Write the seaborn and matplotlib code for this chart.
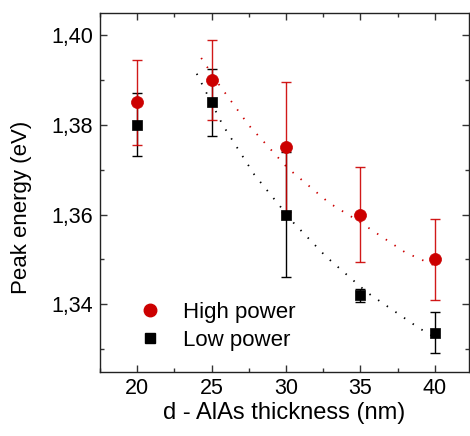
import numpy as np
import pandas as pd
import matplotlib
matplotlib.use("Agg")
import matplotlib.pyplot as plt
import seaborn as sns
from matplotlib.ticker import FuncFormatter, MultipleLocator
from matplotlib.lines import Line2D

# ---- data ----
thickness = [20, 25, 30, 35, 40]
high_power = [1.385, 1.390, 1.375, 1.360, 1.350]
high_err = [0.0095, 0.009, 0.0145, 0.0105, 0.009]
low_power = [1.380, 1.385, 1.360, 1.342, 1.3337]
low_err = [0.007, 0.0075, 0.014, 0.0015, 0.0045]

# dotted guide curves
high_fit_x = [24.3, 25.4, 27.5, 30.1, 32.9, 34.8, 38.0, 40.35]
high_fit_y = [1.3949, 1.3894, 1.3799, 1.3704, 1.3626, 1.3587, 1.3516, 1.3481]
low_fit_x = [24.0, 25.74, 27.87, 30.5, 32.67, 35.43, 38.9, 40.0]
low_fit_y = [1.3914, 1.3800, 1.3689, 1.3582, 1.3507, 1.3427, 1.3348, 1.3326]

labels = ["High power", "Low power"]
xlabel = "d - AlAs thickness (nm)"
ylabel = "Peak energy (eV)"

RED = "#cc0000"
BLACK = "#000000"

sns.set_style("ticks")
plt.rcParams["font.family"] = ["Liberation Sans", "DejaVu Sans"]
plt.rcParams.update({"text.color": "black", "axes.labelcolor": "black",
                     "xtick.color": "black", "ytick.color": "black",
                     "axes.edgecolor": "black"})

fig = plt.figure(figsize=(4.70, 4.36), dpi=100)
ax = fig.add_axes([0.2128, 0.1475, 0.7852, 0.8235])

df_hf = pd.DataFrame({"x": high_fit_x, "y": high_fit_y})
df_lf = pd.DataFrame({"x": low_fit_x, "y": low_fit_y})
sns.lineplot(data=df_hf, x="x", y="y", ax=ax, color=RED, linewidth=1.3, sort=True)
ax.lines[-1].set_dashes((0.8, 5))
sns.lineplot(data=df_lf, x="x", y="y", ax=ax, color=BLACK, linewidth=1.3, sort=True)
ax.lines[-1].set_dashes((0.8, 5))

ax.errorbar(thickness, low_power, yerr=low_err, fmt="none", ecolor=BLACK,
            elinewidth=1.0, capsize=3.5, capthick=1.0, zorder=3)
ax.errorbar(thickness, high_power, yerr=high_err, fmt="none", ecolor=RED,
            elinewidth=1.0, capsize=3.5, capthick=1.0, zorder=3, alpha=0.9)

df_h = pd.DataFrame({"x": thickness, "y": high_power})
df_l = pd.DataFrame({"x": thickness, "y": low_power})
sns.scatterplot(data=df_l, x="x", y="y", ax=ax, marker="s", s=50, color=BLACK,
                edgecolor=BLACK, linewidth=0.5, zorder=4)
sns.scatterplot(data=df_h, x="x", y="y", ax=ax, marker="o", s=75, color=RED,
                edgecolor=RED, linewidth=0.5, zorder=5)

ax.set_xlim(17.5, 42.3)
ax.set_ylim(1.325, 1.405)
ax.xaxis.set_major_locator(MultipleLocator(5))
ax.xaxis.set_minor_locator(MultipleLocator(2.5))
ax.yaxis.set_major_locator(MultipleLocator(0.02))
ax.yaxis.set_minor_locator(MultipleLocator(0.01))
ax.yaxis.set_major_formatter(FuncFormatter(lambda v, p: f"{v:.2f}".replace(".", ",")))
ax.tick_params(which="both", direction="in", top=True, right=True, width=1.0,
               labelsize=15.5, color="#333333", labelcolor="black")
ax.tick_params(axis="x", pad=4.5)
ax.tick_params(axis="y", pad=5)
ax.tick_params(which="major", length=5)
ax.tick_params(which="minor", length=3)
for s in ax.spines.values():
    s.set_linewidth(1.0)
    s.set_color("#222222")

ax.set_xlabel(xlabel, fontsize=17, labelpad=2, color="black")
ax.set_ylabel(ylabel, fontsize=16, color="black")
ax.yaxis.set_label_coords(-0.184, 0.459)

handles = [Line2D([], [], marker="o", color=RED, linestyle="none", markersize=9),
           Line2D([], [], marker="s", color=BLACK, linestyle="none", markersize=7.5)]
ax.legend(handles, labels, loc="lower left", bbox_to_anchor=(0.111, 0.0575),
          frameon=False, fontsize=16, handlelength=0.8, handletextpad=1.1,
          labelspacing=0.33, borderpad=0, borderaxespad=0, labelcolor="black")

fig.savefig("out.png", dpi=100)
